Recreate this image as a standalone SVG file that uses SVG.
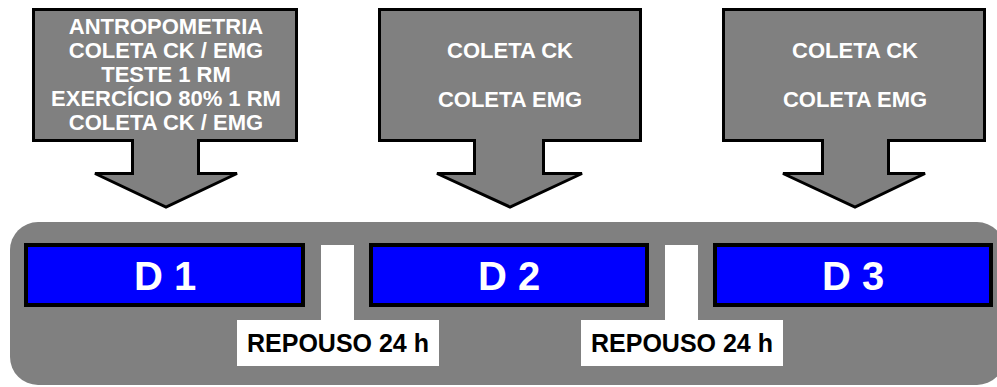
<svg xmlns="http://www.w3.org/2000/svg" width="997" height="387" viewBox="0 0 997 387">
<style>
.arrow{fill:#808080;stroke:#000;stroke-width:3;stroke-linejoin:miter}
.at{font-family:"Liberation Sans",Arial,sans-serif;font-weight:bold;font-size:22px;fill:#fff;text-anchor:middle}
.day{fill:#0000ff;stroke:#000;stroke-width:4}
.dt{font-family:"Liberation Sans",Arial,sans-serif;font-weight:bold;font-size:40px;fill:#fff;text-anchor:middle}
.rest{fill:#fff}
.rt{font-family:"Liberation Sans",Arial,sans-serif;font-weight:bold;font-size:25px;fill:#000;text-anchor:middle}
</style>
<rect width="997" height="387" fill="#fff"/>
<g id="panel">
<rect x="10" y="222" width="995" height="163" rx="28" ry="28" fill="#808080"/>
</g>
<g id="arrow1">
<path class="arrow" d="M33.5,9.5 H296.5 V140.5 H198.5 V173.5 H237 L166,207 L95,173.5 H132.5 V140.5 H33.5 Z"/>
<text class="at" x="166" y="34">ANTROPOMETRIA</text>
<text class="at" x="166" y="58">COLETA CK / EMG</text>
<text class="at" x="166" y="82">TESTE 1 RM</text>
<text class="at" x="166" y="106">EXERCÍCIO 80% 1 RM</text>
<text class="at" x="166" y="130">COLETA CK / EMG</text>
</g>
<g id="arrow2">
<path class="arrow" d="M379.5,9.5 H640.5 V140.5 H543.5 V173.5 H582 L510,207 L437,173.5 H474.5 V140.5 H379.5 Z"/>
<text class="at" x="510" y="58">COLETA CK</text>
<text class="at" x="510" y="107">COLETA EMG</text>
</g>
<g id="arrow3">
<path class="arrow" d="M723.5,9.5 H984.5 V140.5 H888.5 V173.5 H925 L855,207 L783,173.5 H822.5 V140.5 H723.5 Z"/>
<text class="at" x="855" y="58">COLETA CK</text>
<text class="at" x="855" y="107">COLETA EMG</text>
</g>
<g id="d1">
<rect class="day" x="26" y="245" width="277" height="60"/>
<text class="dt" x="165" y="290">D 1</text>
</g>
<g id="d2">
<rect class="day" x="371" y="245" width="276" height="60"/>
<text class="dt" x="509" y="290">D 2</text>
</g>
<g id="d3">
<rect class="day" x="715" y="245" width="276" height="60"/>
<text class="dt" x="853" y="290">D 3</text>
</g>
<g id="connectors">
<path class="rest" d="M321,245 H354 V320 H439 V366 H237 V320 H321 Z"/>
<path class="rest" d="M665,245 H698 V320 H783 V366 H581 V320 H665 Z"/>
</g>
<g id="rest1">
<text class="rt" x="338" y="352">REPOUSO 24 h</text>
</g>
<g id="rest2">
<text class="rt" x="682" y="352">REPOUSO 24 h</text>
</g>
</svg>
